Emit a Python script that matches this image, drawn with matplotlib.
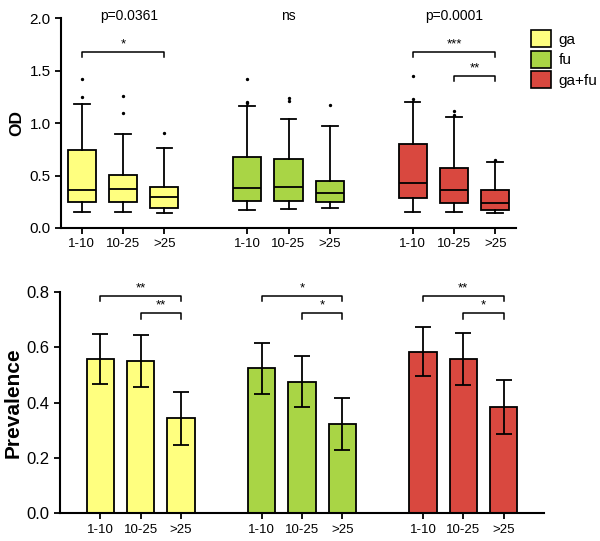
import numpy as np
import matplotlib.pyplot as plt

plt.rcParams['font.family'] = ['Liberation Sans', 'DejaVu Sans']

groups = ["ga", "fu", "ga+fu"]
colors = ["#FFFF7F", "#A9D545", "#D9483F"]
age_labels = ["1-10", "10-25", ">25"]

# box stats: (whislo, q1, med, q3, whishi), outliers
od_stats = [
    [(0.15, 0.25, 0.365, 0.745, 1.18), (0.15, 0.248, 0.375, 0.505, 0.90), (0.146, 0.194, 0.30, 0.387, 0.765)],
    [(0.175, 0.257, 0.381, 0.673, 1.165), (0.184, 0.257, 0.387, 0.66, 1.044), (0.187, 0.248, 0.333, 0.45, 0.975)],
    [(0.156, 0.289, 0.432, 0.806, 1.20), (0.156, 0.238, 0.362, 0.568, 1.063), (0.143, 0.175, 0.241, 0.365, 0.629)],
]
od_outliers = [
    [[1.425, 1.254], [1.26, 1.10], [0.908]],
    [[1.425, 1.20, 1.19], [1.238, 1.213], [1.175]],
    [[1.45, 1.23], [1.12, 1.076], [0.65]],
]

# prevalence bars with error
prev = [[0.558, 0.550, 0.343], [0.523, 0.475, 0.321], [0.584, 0.558, 0.384]]
prev_err = [[0.09, 0.094, 0.095], [0.092, 0.093, 0.094], [0.089, 0.094, 0.097]]

p_texts = ["p=0.0361", "ns", "p=0.0001"]
od_brackets = [(0, 2, 1.676, "*"), (8, 10, 1.676, "***"), (9, 10, 1.45, "**")]
prev_brackets = [(0, 2, 0.785, "**"), (1, 2, 0.722, "**"),
                 (4, 6, 0.785, "*"), (5, 6, 0.722, "*"),
                 (8, 10, 0.785, "**"), (9, 10, 0.722, "*")]

positions = [0, 1, 2, 4, 5, 6, 8, 9, 10]
lw = 1.3


def bracket(ax, x1, x2, y, h, txt):
    ax.plot([x1, x1, x2, x2], [y - h, y, y, y - h], color="black", lw=1.1, clip_on=False)
    ax.text((x1 + x2) / 2, y + h * 0.3, txt, ha="center", va="bottom", fontsize=9.5)


def style_axes(ax):
    for s in ["top", "right"]:
        ax.spines[s].set_visible(False)
    for s in ["left", "bottom"]:
        ax.spines[s].set_linewidth(1.5)
    ax.tick_params(width=1.3, length=4, direction="out")
    ax.tick_params(axis="x", labelsize=9.5)
    ax.set_xticks(positions)
    ax.set_xticklabels(age_labels * 3)


fig = plt.figure(figsize=(6, 5.41), dpi=100)
ax1 = fig.add_axes([0.1017, 0.5786, 0.7583, 0.3874])
ax2 = fig.add_axes([0.100, 0.0512, 0.8067, 0.4096])

# top: box plots
stats = []
for g in range(3):
    for a in range(3):
        lo, q1, med, q3, hi = od_stats[g][a]
        stats.append(dict(whislo=lo, q1=q1, med=med, q3=q3, whishi=hi,
                          fliers=od_outliers[g][a]))
bp = ax1.bxp(stats, positions=positions, widths=0.68, patch_artist=True,
             boxprops=dict(linewidth=lw, edgecolor="black"),
             medianprops=dict(color="black", linewidth=lw),
             whiskerprops=dict(linewidth=lw, color="black"),
             capprops=dict(linewidth=lw, color="black"),
             flierprops=dict(marker="o", markersize=1.4, markerfacecolor="black",
                             markeredgecolor="black"),
             capwidths=0.38)
for i, patch in enumerate(bp["boxes"]):
    patch.set_facecolor(colors[i // 3])

ax1.set_xlim(-0.5, 10.5)
ax1.set_ylim(0, 2.0)
ax1.set_yticks([0, 0.5, 1.0, 1.5, 2.0])
ax1.set_yticklabels(["0.0", "0.5", "1.0", "1.5", "2.0"])
style_axes(ax1)
ax1.tick_params(axis="y", labelsize=11)
ax1.set_ylabel("OD", fontsize=12.5, fontweight="bold", labelpad=4)
for (x1, x2, y, txt) in od_brackets:
    bracket(ax1, x1, x2, y, 0.045, txt)
for g, t in enumerate(p_texts):
    ax1.text([1.15, 5, 9][g], 1.96, t, ha="center", va="bottom", fontsize=10,
             clip_on=False)

handles = [plt.Rectangle((0, 0), 1, 1, facecolor=c, edgecolor="black", linewidth=1.2)
           for c in colors]
fig.legend(handles, groups, loc="upper left", bbox_to_anchor=(0.875, 0.955),
           frameon=False, fontsize=11, handlelength=1.3, handleheight=1.3,
           labelspacing=0.25, handletextpad=0.5, borderaxespad=0)

# bottom: bars
vals = [v for row in prev for v in row]
errs = [e for row in prev_err for e in row]
bar_cols = [colors[i // 3] for i in range(9)]
ax2.bar(positions, vals, width=0.68, color=bar_cols, edgecolor="black", linewidth=lw,
        yerr=errs, capsize=5.5, error_kw=dict(elinewidth=lw, capthick=lw, ecolor="black"))
ax2.set_xlim(-1, 11)
ax2.set_ylim(0, 0.8)
ax2.set_yticks([0, 0.2, 0.4, 0.6, 0.8])
ax2.set_yticklabels(["0.0", "0.2", "0.4", "0.6", "0.8"])
style_axes(ax2)
ax2.tick_params(axis="y", labelsize=12)
ax2.set_ylabel("Prevalence", fontsize=15, fontweight="bold", labelpad=3)
for (x1, x2, y, txt) in prev_brackets:
    bracket(ax2, x1, x2, y, 0.02, txt)

fig.savefig("out.png", dpi=100)
